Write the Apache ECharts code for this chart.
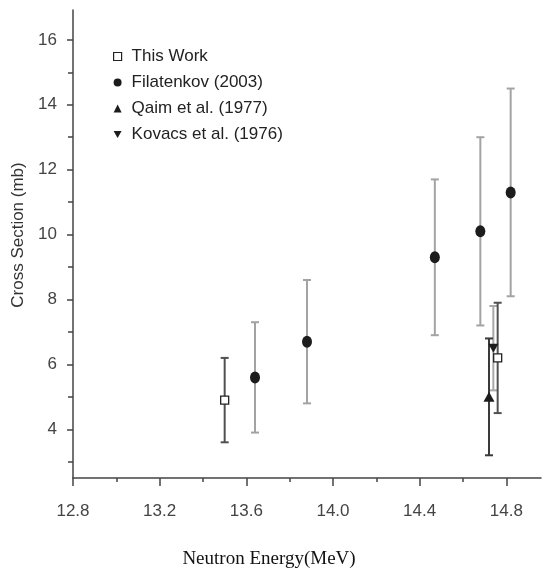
<!DOCTYPE html>
<html>
<head>
<meta charset="utf-8">
<script src="https://cdn.jsdelivr.net/npm/echarts@6/dist/echarts.min.js"></script>
<style>
html,body{margin:0;padding:0;background:#fff;}
#chart{width:542px;height:570px;}
</style>
</head>
<body>
<div id="chart"></div>
<script>
// ---- data ----
const seriesNames = ['This Work', 'Filatenkov (2003)', 'Qaim et al. (1977)', 'Kovacs et al. (1976)'];
// [energy MeV, cross section mb, lower, upper]
const thisWork   = [[13.50, 4.9, 3.6, 6.2], [14.76, 6.2, 4.5, 7.9]];
const filatenkov = [[13.64, 5.6, 3.9, 7.3], [13.88, 6.7, 4.8, 8.6], [14.47, 9.3, 6.9, 11.7], [14.68, 10.1, 7.2, 13.0], [14.82, 11.3, 8.1, 14.5]];
const qaim       = [[14.72, 5.0, 3.2, 6.8]];
const kovacs     = [[14.74, 6.5, 5.2, 7.8]];
const xMajorTicks = [12.8, 13.2, 13.6, 14.0, 14.4, 14.8];
const xMinorTicks = [13.0, 13.4, 13.8, 14.2, 14.6];
const yMajorTicks = [4, 6, 8, 10, 12, 14, 16];
const yMinorTicks = [3, 5, 7, 9, 11, 13, 15];

const chart = echarts.init(document.getElementById('chart'), null, {renderer: 'canvas'});
const FONT = '"Liberation Sans", Arial, sans-serif';

function errSeries(data, color, z) {
  return {
    type: 'custom',
    xAxisIndex: 0, yAxisIndex: 0,
    z: z,
    silent: true,
    data: data.map(d => [d[0], d[2], d[3]]),
    renderItem: function (params, api) {
      const x = api.value(0);
      const lo = api.coord([x, api.value(1)]);
      const hi = api.coord([x, api.value(2)]);
      const hw = 4;
      const st = {stroke: color, lineWidth: 2};
      return {
        type: 'group',
        children: [
          {type: 'line', shape: {x1: lo[0], y1: lo[1], x2: hi[0], y2: hi[1]}, style: st},
          {type: 'line', shape: {x1: lo[0] - hw, y1: lo[1], x2: lo[0] + hw, y2: lo[1]}, style: st},
          {type: 'line', shape: {x1: hi[0] - hw, y1: hi[1], x2: hi[0] + hw, y2: hi[1]}, style: st}
        ]
      };
    }
  };
}

const downTri = 'path://M0,0 L10,0 L5,9 Z';

const option = {
  backgroundColor: '#fff',
  animation: false,
  grid: {left: 73, right: 1, top: 10, bottom: 92, containLabel: false, outerBoundsMode: 'none'},
  legend: {
    orient: 'vertical',
    left: 108,
    top: 43,
    itemWidth: 8,
    itemHeight: 8,
    itemGap: 9,
    data: [
      {name: seriesNames[0], icon: 'rect', itemStyle: {color: '#fff', borderColor: '#222', borderWidth: 1.2}},
      {name: seriesNames[1], icon: 'circle'},
      {name: seriesNames[2], icon: 'triangle'},
      {name: seriesNames[3], icon: downTri}
    ],
    textStyle: {fontFamily: FONT, fontSize: 17, color: '#222', padding: [0, 0, 0, 5], lineHeight: 17}
  },
  xAxis: [{
    type: 'value', min: 12.8, max: 14.96,
    name: 'Neutron Energy(MeV)', nameLocation: 'middle', nameGap: 72,
    nameTextStyle: {fontFamily: 'Liberation Serif, Times New Roman, serif', fontSize: 19, color: '#111', padding: [0, 76, 0, 0]},
    splitLine: {show: false},
    axisLine: {show: true, onZero: false, lineStyle: {color: '#444', width: 1.5}},
    axisTick: {show: true, inside: false, length: 8, customValues: xMajorTicks, lineStyle: {color: '#444', width: 1.5}},
    axisLabel: {customValues: xMajorTicks, margin: 25, fontFamily: FONT, fontSize: 17, color: '#444',
      formatter: v => v.toFixed(1)}
  }, {
    type: 'value', min: 12.8, max: 14.96, position: 'bottom',
    axisLine: {show: false}, splitLine: {show: false},
    axisTick: {show: true, length: 4, customValues: xMinorTicks, lineStyle: {color: '#444', width: 1.5}},
    axisLabel: {show: false}
  }],
  yAxis: [{
    type: 'value', min: 2.5, max: 16.92,
    name: 'Cross Section (mb)', nameLocation: 'middle', nameGap: 44,
    nameTextStyle: {fontFamily: FONT, fontSize: 17, color: '#333', padding: [0, 0, 0, 18]},
    splitLine: {show: false},
    axisLine: {show: true, onZero: false, lineStyle: {color: '#444', width: 1.5}},
    axisTick: {show: true, length: 6, customValues: yMajorTicks, lineStyle: {color: '#444', width: 1.5}},
    axisLabel: {customValues: yMajorTicks, margin: 16, fontFamily: FONT, fontSize: 17, color: '#444'}
  }, {
    type: 'value', min: 2.5, max: 16.92, position: 'left',
    axisLine: {show: false}, splitLine: {show: false},
    axisTick: {show: true, length: 5, customValues: yMinorTicks, lineStyle: {color: '#444', width: 1.5}},
    axisLabel: {show: false}
  }],
  series: [
    errSeries(filatenkov, '#a3a3a3', 2),
    errSeries(kovacs, '#a8a8a8', 2),
    errSeries(thisWork, '#505050', 3),
    errSeries(qaim, '#3a3a3a', 3),
    {
      name: seriesNames[1], type: 'scatter', z: 5,
      data: filatenkov.map(d => [d[0], d[1]]),
      symbol: 'circle', symbolSize: [10, 12],
      itemStyle: {color: '#1c1c1c', opacity: 1}
    },
    {
      name: seriesNames[2], type: 'scatter', z: 5,
      data: qaim.map(d => [d[0], d[1]]),
      symbol: 'triangle', symbolSize: [11, 10],
      itemStyle: {color: '#1c1c1c', opacity: 1}
    },
    {
      name: seriesNames[3], type: 'scatter', z: 5,
      data: kovacs.map(d => [d[0], d[1]]),
      symbol: downTri, symbolSize: [10, 9],
      itemStyle: {color: '#1c1c1c', opacity: 1}
    },
    {
      name: seriesNames[0], type: 'scatter', z: 6,
      data: thisWork.map(d => [d[0], d[1]]),
      symbol: 'rect', symbolSize: 8,
      itemStyle: {color: '#fff', borderColor: '#222', borderWidth: 1.3, opacity: 1}
    }
  ]
};
chart.setOption(option);
</script>
</body>
</html>
